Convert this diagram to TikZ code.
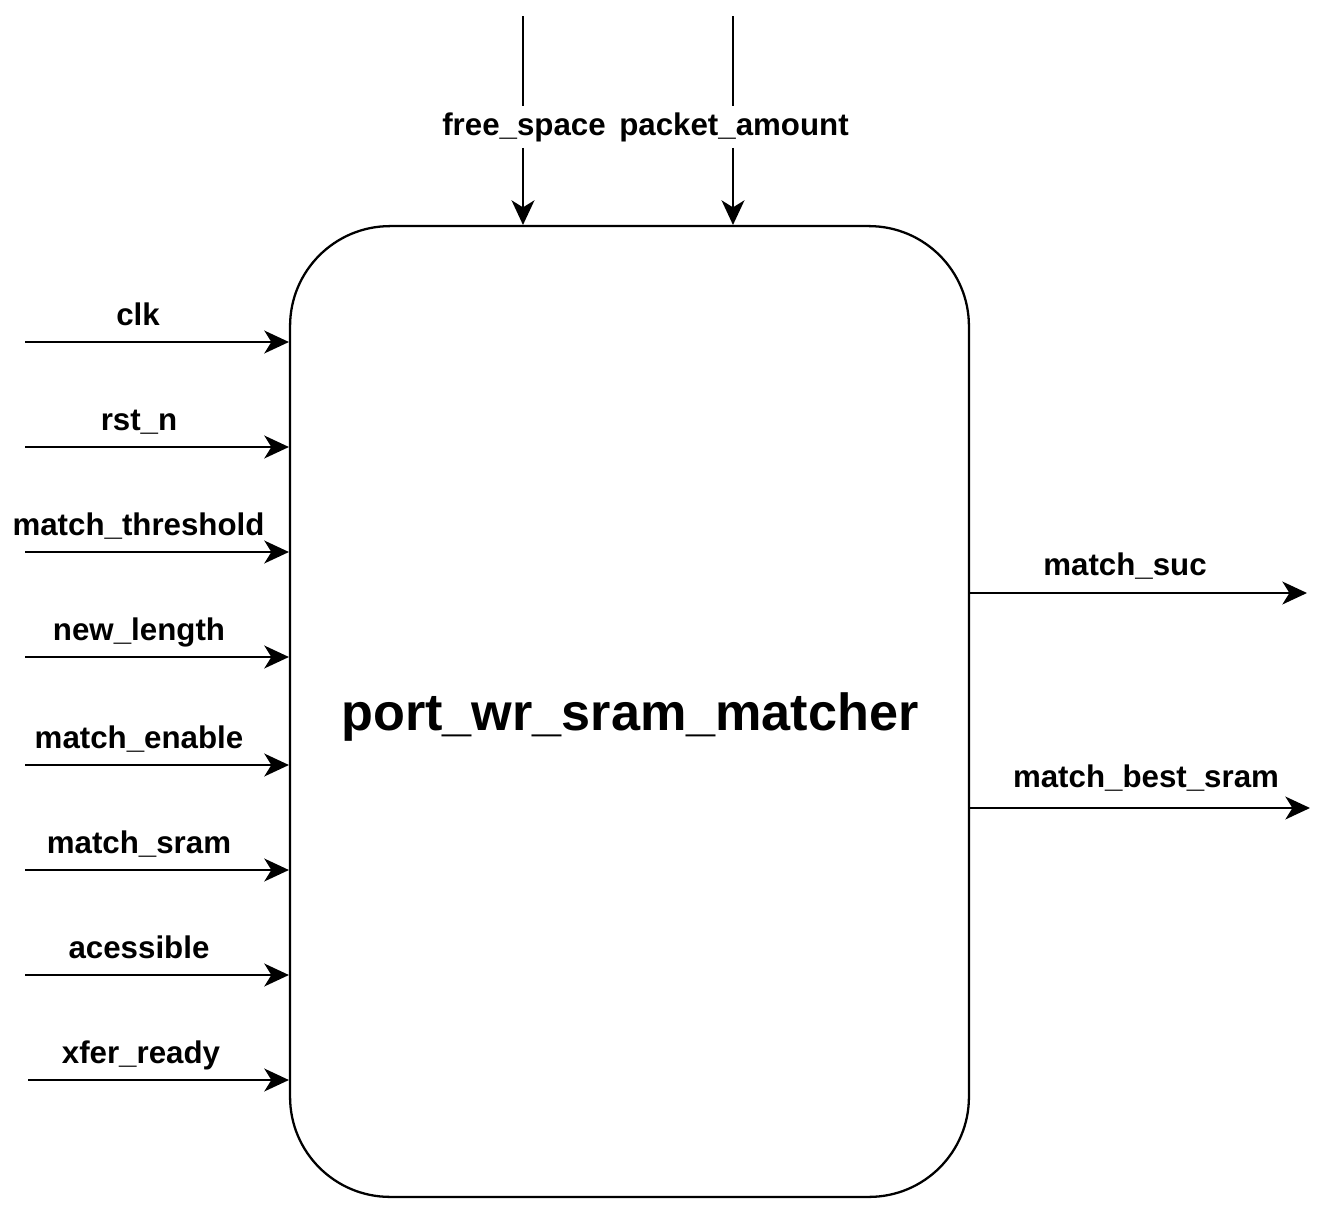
\documentclass[tikz,border=0pt]{standalone}
\usepackage{fontspec}
\setmainfont{Liberation Sans}
\usetikzlibrary{arrows.meta}
\tikzset{
  wire/.style={draw=black, line width=1.3pt},
  sig/.style={wire, -{Stealth[length=14pt,width=13pt,inset=4pt]}},
  lbl/.style={font=\fontsize{17.8}{20}\selectfont\bfseries, anchor=base, inner sep=0pt},
  toplbl/.style={lbl, inner sep=3.4pt},
  block/.style={draw=black, line width=1.3pt, rounded corners=2cm,
    minimum width=13.58cm, minimum height=19.42cm},
  blockname/.style={font=\fontsize{29.7}{34}\selectfont\bfseries, anchor=base, inner sep=0pt}
}
\begin{document}
\begin{tikzpicture}[x=0.02cm, y=0.02cm]
\useasboundingbox (0,0) rectangle (1330,-1218);
\node [block] (box) at (629.5,-711.5) {};
\node [blockname] (name) at (630,-730) {port\_wr\_sram\_matcher};
% top inputs
\coordinate (tfree) at (523,-16);
\node [toplbl] (lfree) at (524,-135) {free\_space};
\draw [wire] (tfree) -- (tfree |- lfree.north);
\draw [sig] (tfree |- lfree.south) -- (tfree |- box.north);
\coordinate (tpkt) at (733,-16);
\node [toplbl] (lpkt) at (734,-135) {packet\_amount};
\draw [wire] (tpkt) -- (tpkt |- lpkt.north);
\draw [sig] (tpkt |- lpkt.south) -- (tpkt |- box.north);
% left inputs
\coordinate (iclk) at (25,-342);
\draw [sig] (iclk) -- (iclk -| box.west);
\node [lbl] (lclk) at (138,-325) {clk};
\coordinate (irst) at (25,-447);
\draw [sig] (irst) -- (irst -| box.west);
\node [lbl] (lrst) at (139,-430) {rst\_n};
\coordinate (ithr) at (25,-552);
\draw [sig] (ithr) -- (ithr -| box.west);
\node [lbl] (lthr) at (138.5,-535) {match\_threshold};
\coordinate (ilen) at (25,-657);
\draw [sig] (ilen) -- (ilen -| box.west);
\node [lbl] (llen) at (139,-640) {new\_length};
\coordinate (ienb) at (25,-765);
\draw [sig] (ienb) -- (ienb -| box.west);
\node [lbl] (lenb) at (139,-748) {match\_enable};
\coordinate (isram) at (25,-870);
\draw [sig] (isram) -- (isram -| box.west);
\node [lbl] (lsram) at (139,-853) {match\_sram};
\coordinate (iacc) at (25,-975);
\draw [sig] (iacc) -- (iacc -| box.west);
\node [lbl] (lacc) at (139,-958) {acessible};
\coordinate (ixfer) at (28,-1080);
\draw [sig] (ixfer) -- (ixfer -| box.west);
\node [lbl] (lxfer) at (141,-1063) {xfer\_ready};
% right outputs
\coordinate (osuc) at (1307,-593);
\draw [sig] (osuc -| box.east) -- (osuc);
\node [lbl] (lsuc) at (1125,-575) {match\_suc};
\coordinate (obest) at (1310,-808);
\draw [sig] (obest -| box.east) -- (obest);
\node [lbl] (lbest) at (1146,-787) {match\_best\_sram};
\end{tikzpicture}
\end{document}
